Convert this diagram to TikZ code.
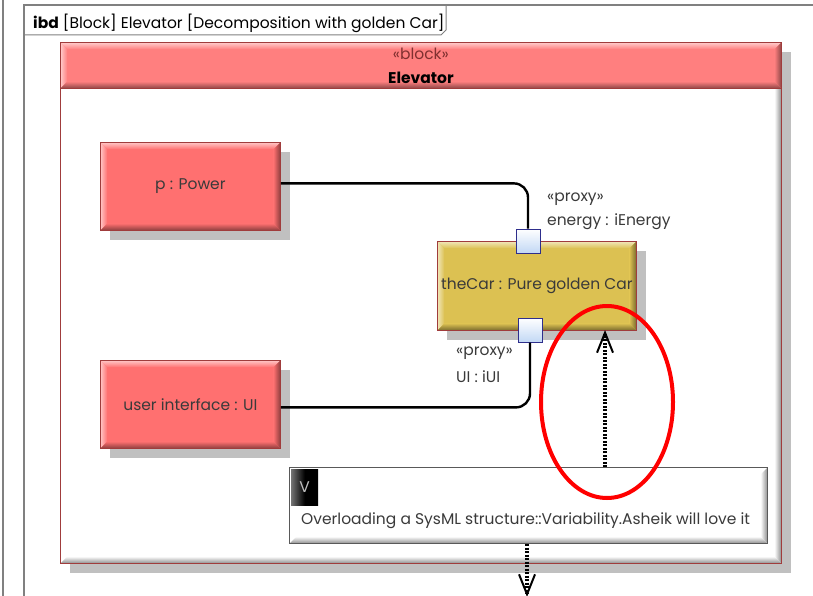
\documentclass[tikz,border=0pt]{standalone}
\usepackage{fontspec}
\setmainfont{Poppins}
\usetikzlibrary{arrows.meta,shadows,calc}

\definecolor{blockred}{HTML}{FF7070}
\definecolor{headred}{HTML}{FF7F7F}
\definecolor{carbody}{HTML}{DCC152}
\definecolor{edgered}{HTML}{A03C3C}
\definecolor{portblue}{HTML}{C2D8F5}
\definecolor{portedge}{HTML}{2E2E8C}
\definecolor{shadowgray}{HTML}{C0C0C0}
\definecolor{framegray}{HTML}{808080}
\definecolor{textdark}{HTML}{3A3A3A}

\newcommand{\diagfont}{\fontsize{15.5}{18}\selectfont}

\tikzset{
  % beveled fill: #1 base colour, #2 light edge, #3 dark edge
  bevel/.style n args={3}{
    fill=#1,
    path picture={
      \path (path picture bounding box.south west) coordinate (bvSW)
            (path picture bounding box.north east) coordinate (bvNE)
            (path picture bounding box.north west) coordinate (bvNW)
            (path picture bounding box.south east) coordinate (bvSE);
      \shade[top color=#2, bottom color=#1]
        (bvNW) -- (bvNE) -- ([xshift=-7pt,yshift=-7pt]bvNE) -- ([xshift=7pt,yshift=-7pt]bvNW) -- cycle;
      \shade[left color=#2, right color=#1]
        (bvNW) -- (bvSW) -- ([xshift=7pt,yshift=7pt]bvSW) -- ([xshift=7pt,yshift=-7pt]bvNW) -- cycle;
      \shade[top color=#1, bottom color=#3]
        (bvSW) -- (bvSE) -- ([xshift=-7pt,yshift=7pt]bvSE) -- ([xshift=7pt,yshift=7pt]bvSW) -- cycle;
      \shade[left color=#1, right color=#3]
        (bvNE) -- (bvSE) -- ([xshift=-7pt,yshift=7pt]bvSE) -- ([xshift=-7pt,yshift=-7pt]bvNE) -- cycle;
    }
  },
  boxshadow/.style={drop shadow={shadow xshift=10pt, shadow yshift=-10pt, fill=shadowgray, opacity=1}},
  partbox/.style={anchor=north west, inner sep=0pt, draw=edgered, line width=0.8pt,
    boxshadow, text=textdark, font=\diagfont},
  portbox/.style={draw=portedge, line width=1pt, minimum size=24pt, inner sep=0pt,
    top color=white, bottom color=portblue},
  lbl/.style={anchor=west, inner sep=0pt, text=textdark, font=\diagfont},
  wire/.style={line width=2.4pt, rounded corners=14pt},
  dep/.style={black, line width=3.2pt, dash pattern=on 2pt off 1.5pt,
    -{Straight Barb[length=20pt, width=16pt, line width=2pt]}},
}

\begin{document}
\begin{tikzpicture}[x=1pt, y=-1pt]
\useasboundingbox (0,0) rectangle (813,596);
\fill[white] (0,0) rectangle (813,596);

% diagram frames
\draw[framegray, line width=1.5pt] (3,0) -- (3,596);
\draw[framegray, line width=1.5pt] (24,596) -- (24,5) -- (813,5);
\draw[framegray, line width=1pt] (24,35) -- (441,35) -- (446,30) -- (446,5);
\node[anchor=west, inner sep=0pt, font=\diagfont] (title) at (33,23)
  {\textbf{ibd} [Block] Elevator [Decomposition with golden Car]};

% Elevator block with its compartment header
\node[partbox, bevel={white}{white}{black!45}, minimum width=721pt, minimum height=521pt] (elev) at (60,42) {};
\node[anchor=north west, inner sep=0pt, draw=edgered, line width=0.8pt,
  bevel={headred}{headred!40!white}{headred!55!black},
  minimum width=721pt, minimum height=46pt, align=center,
  font=\fontsize{15.5}{24}\selectfont] (elevhead) at (60,42)
  {\textcolor{edgered!80!black}{«block»}\\\textbf{Elevator}};

% parts
\node[partbox, bevel={blockred}{blockred!40!white}{blockred!55!black},
  minimum width=180pt, minimum height=88pt] (p) at (100,142) {p : Power};
\node[partbox, bevel={blockred}{blockred!40!white}{blockred!55!black},
  minimum width=180pt, minimum height=88pt] (ui) at (100,360) {user interface : UI};
\node[partbox, bevel={carbody}{carbody!40!white}{carbody!55!black},
  minimum width=199pt, minimum height=89pt] (car) at (437,241) {theCar : Pure golden Car};

% proxy ports
\node[portbox] (ptop) at (528,241) {};
\node[portbox] (pbot) at (530,330) {};
\node[lbl] (ptops) at (547,199) {«proxy»};
\node[lbl] (ptopn) at (547,222) {energy : iEnergy};
\node[lbl] (pbots) at (456,353) {«proxy»};
\node[lbl] (pbotn) at (456,377) {UI : iUI};

% connectors
\draw[wire] ([yshift=3pt]p.east) -| (ptop.north);
\draw[wire] (pbot.south) |- ([yshift=-3pt]ui.east);

% comment
\node[anchor=north west, inner sep=0pt, draw=black!65, line width=1pt,
  bevel={white}{white}{black!45}, minimum width=478pt, minimum height=76pt] (cmt) at (289,467) {};
\node[anchor=north west, inner sep=0pt, minimum width=27pt, minimum height=36pt,
  left color=black!55, right color=black, middle color=black, text=black!25,
  font=\diagfont] (vtag) at (291,469) {V};
\node[anchor=west, inner sep=0pt, text=textdark, font=\diagfont] (cmttext) at (301,521)
  {Overloading a SysML structure::Variability.Asheik will love it};

% dependencies
\coordinate (tipup) at (605,330);
\coordinate (tipdown) at (527,597);
\draw[dep] (cmt.north -| tipup) -- (tipup);
\draw[dep] (cmt.south -| tipdown) -- (tipdown);

% highlight
\draw[red, line width=4pt] (607,402) ellipse [x radius=66, y radius=96];
\end{tikzpicture}
\end{document}
